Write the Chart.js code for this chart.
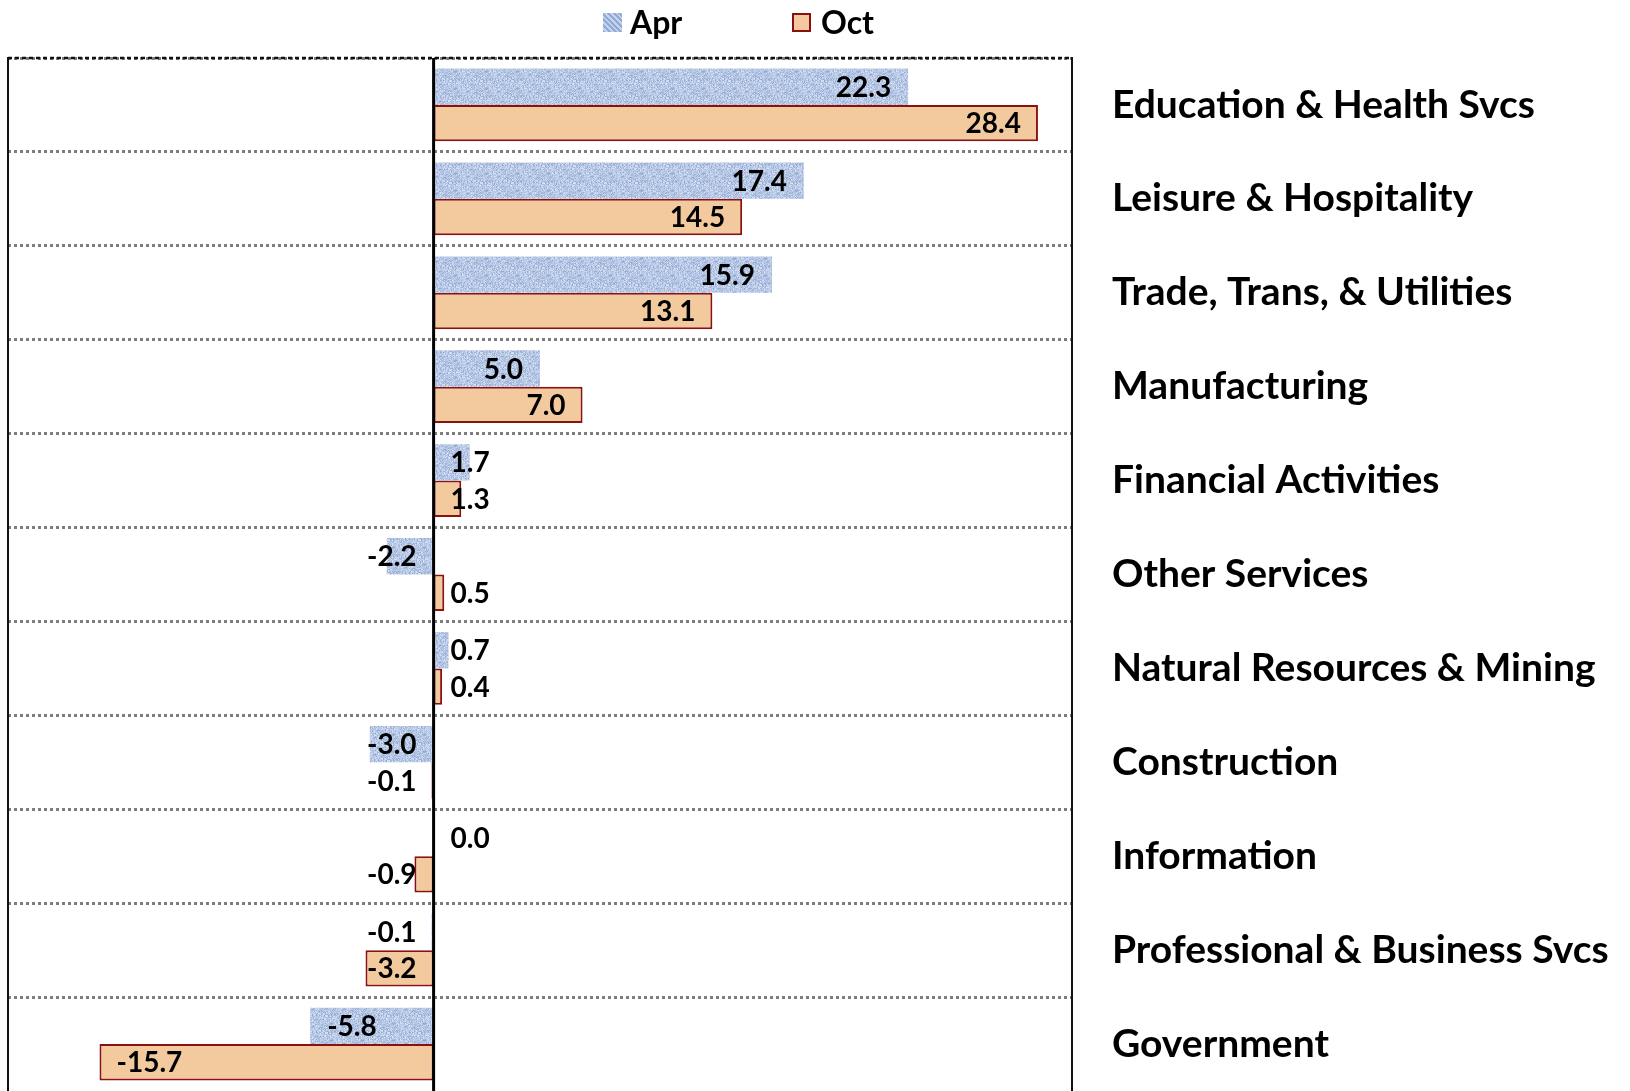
<!DOCTYPE html>
<html>
<head>
<meta charset="utf-8">
<script src="https://cdn.jsdelivr.net/npm/chart.js@4/dist/chart.umd.min.js"></script>
<style>
  html, body { margin: 0; padding: 0; background: #fff; }
  #wrap { position: relative; width: 1630px; height: 1091px; overflow: hidden; }
  #legend { position: absolute; left: 0; top: 0; width: 1630px; height: 50px; font-family: Lato, "Open Sans", sans-serif; font-weight: bold; font-size: 32px; color: #000; }
  .lg-box { position: absolute; top: 13px; width: 19px; height: 19px; box-sizing: border-box; }
  .lg-text { position: absolute; top: 3px; line-height: 38px; }
  #box-apr { left: 603px; background: #aabde2; background-image: repeating-linear-gradient(45deg, rgba(140,165,210,0.8) 0 2px, rgba(205,217,240,0.8) 2px 4px); }
  #box-oct { left: 792px; background: #f4c99f; border: 2px solid #8b1010; }
</style>
</head>
<body>
<div id="wrap">
  <canvas id="c" width="1630" height="1091"></canvas>
  <div id="legend">
    <div class="lg-box" id="box-apr"></div><div class="lg-text" style="left:630px">Apr</div>
    <div class="lg-box" id="box-oct"></div><div class="lg-text" style="left:821px">Oct</div>
  </div>
</div>
<script>
const categories = [
  "Education & Health Svcs",
  "Leisure & Hospitality",
  "Trade, Trans, & Utilities",
  "Manufacturing",
  "Financial Activities",
  "Other Services",
  "Natural Resources & Mining",
  "Construction",
  "Information",
  "Professional & Business Svcs",
  "Government"
];
const seriesNames = ["Apr", "Oct"];
const aprValues = [22.3, 17.4, 15.9, 5.0, 1.7, -2.2, 0.7, -3.0, 0.0, -0.1, -5.8];
const octValues = [28.4, 14.5, 13.1, 7.0, 1.3, 0.5, 0.4, -0.1, -0.9, -3.2, -15.7];
const axisMin = -20;
const axisMax = 30;

function makeTexture() {
  const c = document.createElement('canvas');
  c.width = 31; c.height = 17;
  const g = c.getContext('2d');
  g.fillStyle = '#b8c9e7';
  g.fillRect(0, 0, 31, 17);
  for (let y = 0; y < 17; y++) {
    for (let x = 0; x < 31; x++) {
      const h = (x * 7 + y * 13 + ((x * x + 3 * y * y + x * y) % 17)) % 19;
      if (h < 3) { g.fillStyle = '#96acd3'; g.fillRect(x, y, 1, 1); }
      else if (h < 6) { g.fillStyle = '#a8bbdd'; g.fillRect(x, y, 1, 1); }
      else if (h > 14) { g.fillStyle = '#d4def1'; g.fillRect(x, y, 1, 1); }
    }
  }
  return g.createPattern(c, 'repeat');
}

const ctx = document.getElementById('c').getContext('2d');
const aprFill = makeTexture();

const decorPlugin = {
  id: 'decor',
  afterDatasetsDraw(chart) {
    const { ctx, chartArea: { left, right, top, bottom }, scales: { x } } = chart;
    const x0 = x.getPixelForValue(0);
    ctx.save();
    // top dashed line
    ctx.strokeStyle = '#111';
    ctx.lineWidth = 2.5;
    ctx.setLineDash([4, 3]);
    ctx.beginPath(); ctx.moveTo(left, top); ctx.lineTo(right, top); ctx.stroke();
    ctx.setLineDash([]);
    // frame
    ctx.lineWidth = 2;
    ctx.beginPath(); ctx.moveTo(left, top - 1); ctx.lineTo(left, bottom); ctx.stroke();
    ctx.beginPath(); ctx.moveTo(right, top - 1); ctx.lineTo(right, bottom); ctx.stroke();
    // zero line
    ctx.strokeStyle = '#000';
    ctx.lineWidth = 3;
    ctx.beginPath(); ctx.moveTo(x0, top); ctx.lineTo(x0, bottom); ctx.stroke();
    // data labels
    ctx.fillStyle = '#000';
    ctx.font = 'bold 28px Lato, "Open Sans", sans-serif';
    ctx.textBaseline = 'middle';
    ctx.textAlign = 'left';
    chart.data.datasets.forEach((ds, i) => {
      const meta = chart.getDatasetMeta(i);
      meta.data.forEach((bar, j) => {
        const v = ds.data[j];
        const txt = v.toFixed(1);
        const w = ctx.measureText(txt).width;
        let xl;
        if (v >= 0) {
          const r = Math.max(bar.x - 17, x0 + 17 + w);
          xl = r - w;
        } else {
          xl = Math.min(bar.x + 17, x0 - 17 - w);
        }
        ctx.fillText(txt, xl, bar.y + 1);
      });
    });
    ctx.restore();
  }
};

new Chart(ctx, {
  type: 'bar',
  data: {
    labels: categories,
    datasets: [
      {
        label: seriesNames[0],
        data: aprValues,
        backgroundColor: aprFill,
        borderWidth: 0,
        categoryPercentage: 0.775,
        barPercentage: 1.0
      },
      {
        label: seriesNames[1],
        data: octValues,
        backgroundColor: '#f3c99e',
        borderColor: '#8b1010',
        borderWidth: 2,
        borderSkipped: false,
        categoryPercentage: 0.775,
        barPercentage: 1.0
      }
    ]
  },
  options: {
    indexAxis: 'y',
    responsive: false,
    animation: false,
    devicePixelRatio: 1,
    layout: { padding: { top: 58, left: 8, right: 0, bottom: -3 } },
    plugins: {
      legend: { display: false },
      tooltip: { enabled: false },
      title: { display: false }
    },
    scales: {
      x: {
        type: 'linear',
        min: axisMin,
        max: axisMax,
        display: false
      },
      y: {
        position: 'right',
        grid: {
          display: true,
          color: (c) => (c.type !== 'tick' ? 'rgba(0,0,0,0)' : '#7d7d7d'),
          lineWidth: 3,
          drawTicks: false,
          tickLength: 0,
          offset: true
        },
        border: { display: false, dash: [3, 3] },
        ticks: {
          color: '#000',
          padding: 40,
          crossAlign: 'near',
          font: { family: 'Lato, "Open Sans", sans-serif', weight: 'bold', size: 39 }
        },
        afterFit(scale) {
          scale.width = 558;
          scale.paddingTop = 0;
          scale.paddingBottom = 0;
        }
      }
    }
  },
  plugins: [decorPlugin]
});
</script>
</body>
</html>
